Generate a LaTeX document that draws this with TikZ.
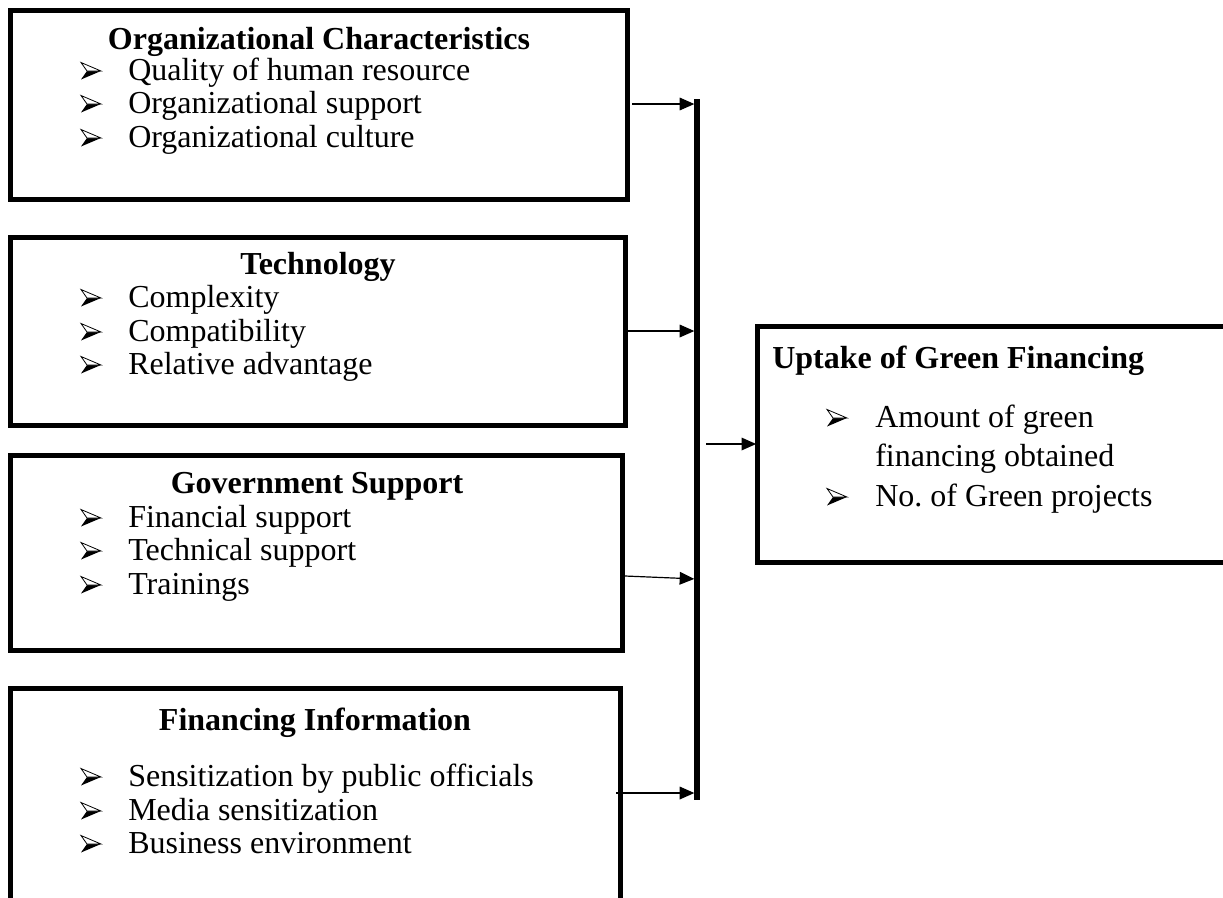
\documentclass[tikz,border=0pt]{standalone}
\usepackage{fontspec}
\setmainfont{Liberation Serif}
\usetikzlibrary{arrows.meta,fit}
\begin{document}
\begin{tikzpicture}[x=0.75pt,y=-0.75pt,
  box/.style={draw, line width=3.5pt, inner sep=0pt, outer sep=0pt},
  ttl/.style={font=\fontsize{24}{28}\selectfont\bfseries, inner sep=0pt, anchor=base},
  itm/.style={font=\fontsize{24}{28}\selectfont, inner sep=0pt, anchor=base west},
  arr/.style={line width=0.9pt, -{Triangle[length=11pt,width=9.5pt]}},
  bar/.style={line width=4pt},
  bul/.pic={
    \fill[black] (0,8.5) -- (20,0) -- (6,0) -- cycle;
    \draw[line width=0.6pt, fill=white, line join=miter] (0,-8.5) -- (20,0) -- (6,0) -- cycle;
  }]
\useasboundingbox (0,0) rectangle (1223,897);
\clip (0,0) rectangle (1223,897);

% ---- Organizational characteristics
\node[box, fit={(10.5,10.5)(627.5,199.5)}] (org) {};
\node[ttl] (orgT) at (319,49) {Organizational Characteristics};
\pic at (81,71) {bul};  \node[itm] (org1) at (128,80)  {Quality of human resource};
\pic at (81,104) {bul}; \node[itm] (org2) at (128,113) {Organizational support};
\pic at (81,138) {bul}; \node[itm] (org3) at (128,147) {Organizational culture};

% ---- Technology
\node[box, fit={(10.5,237.5)(625.5,425.5)}] (tec) {};
\node[ttl] (tecT) at (318,274) {Technology};
\pic at (81,298) {bul}; \node[itm] (tec1) at (128,307) {Complexity};
\pic at (81,332) {bul}; \node[itm] (tec2) at (128,341) {Compatibility};
\pic at (81,365) {bul}; \node[itm] (tec3) at (128,374) {Relative advantage};

% ---- Government support
\node[box, fit={(10.5,455.5)(622.5,650.5)}] (gov) {};
\node[ttl] (govT) at (317,493) {Government Support};
\pic at (81,518) {bul}; \node[itm] (gov1) at (128,527) {Financial support};
\pic at (81,551) {bul}; \node[itm] (gov2) at (128,560) {Technical support};
\pic at (81,585) {bul}; \node[itm] (gov3) at (128,594) {Trainings};

% ---- Financing information
\node[box, fit={(10.5,688.5)(620.5,910)}] (fin) {};
\node[ttl] (finT) at (315,730) {Financing Information};
\pic at (81,777) {bul}; \node[itm] (fin1) at (128,786) {Sensitization by public officials};
\pic at (81,811) {bul}; \node[itm] (fin2) at (128,820) {Media sensitization};
\pic at (81,844) {bul}; \node[itm] (fin3) at (128,853) {Business environment};

% ---- Outcome
\node[box, fit={(757.5,326.5)(1240,562.5)}] (up) {};
\node[ttl, anchor=base west] (upT) at (772,368) {Uptake of Green Financing};
\pic at (827,418) {bul}; \node[itm] (up1a) at (875,427) {Amount of green};
                         \node[itm] (up1b) at (875,466) {financing obtained};
\pic at (827,497) {bul}; \node[itm] (up2) at (875,506) {No.\ of Green projects};

% ---- collecting bar and arrows
\coordinate (barT) at (697,99);
\coordinate (barB) at (697,800);
\draw[bar] (barT) -- (barB);

\coordinate (a1) at (632,104);
\coordinate (a2) at (628,331);
\coordinate (a3) at (625,576);
\coordinate (a3e) at (697,579);
\coordinate (a4) at (616,793);
\coordinate (a5) at (706,444);

\draw[arr, shorten >=2pt] (a1) -- (a1 -| barT);
\draw[arr, shorten >=2pt] (a2) -- (a2 -| barT);
\draw[arr, shorten >=2pt] (a3) -- (a3e);
\draw[arr, shorten >=2pt] (a4) -- (a4 -| barT);
\draw[arr, shorten >=1pt] (a5) -- (a5 -| up.west);
\end{tikzpicture}
\end{document}
